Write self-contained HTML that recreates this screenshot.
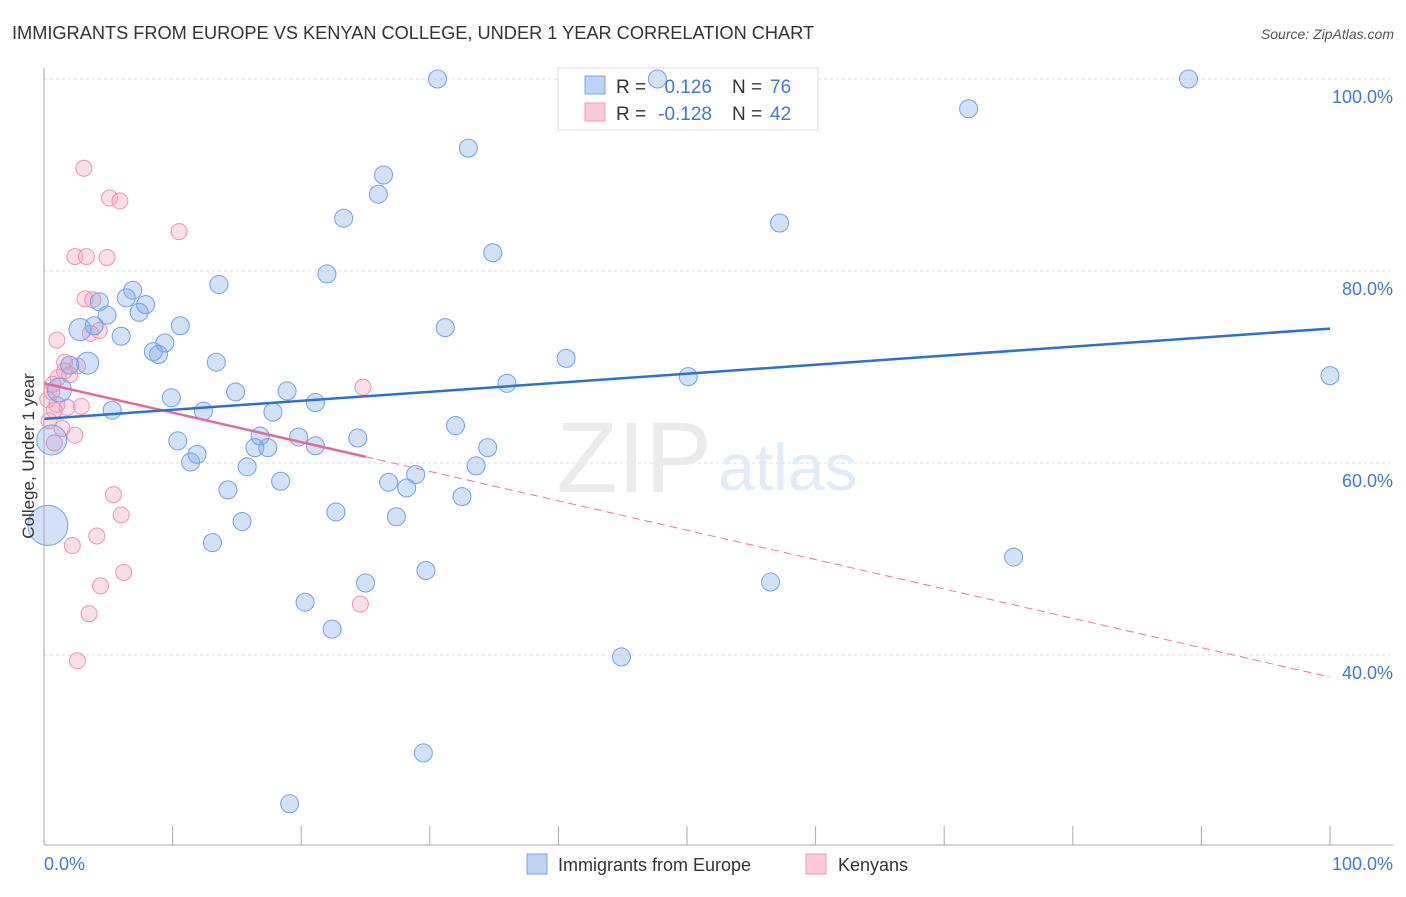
<!DOCTYPE html>
<html><head><meta charset="utf-8"><style>
body{margin:0;background:#fff;font-family:"Liberation Sans",sans-serif;}
svg text{font-family:"Liberation Sans",sans-serif;}
</style></head><body>
<svg width="1406" height="892" xmlns="http://www.w3.org/2000/svg">
<text x="12" y="39" font-size="18.2" fill="#333">IMMIGRANTS FROM EUROPE VS KENYAN COLLEGE, UNDER 1 YEAR CORRELATION CHART</text>
<text x="1394" y="39" font-size="14" fill="#555" font-style="italic" text-anchor="end">Source: ZipAtlas.com</text>
<g id="grid"></g>
<text x="712" y="492" font-size="100" fill="#ebebeb" text-anchor="end" font-family="Liberation Serif">ZIP</text>
<text x="718" y="490" font-size="66" fill="#e3ebf6">atlas</text>
<g>
<rect x="558" y="68" width="260" height="62" fill="#fff" stroke="#ddd"/>
<rect x="585" y="76" width="20" height="18" fill="#bcd3f5" stroke="#7ea6e6"/>
<rect x="585" y="103" width="20" height="18" fill="#fbc9d8" stroke="#eb9ab5"/>
<text x="616" y="93" font-size="19" fill="#333">R =</text>
<text x="712" y="93" font-size="19" fill="#3f78d6" text-anchor="end">0.126</text>
<text x="732" y="93" font-size="19" fill="#333">N =</text>
<text x="770" y="93" font-size="19" fill="#3f78d6">76</text>
<text x="616" y="120" font-size="19" fill="#333">R =</text>
<text x="712" y="120" font-size="19" fill="#3f78d6" text-anchor="end">-0.128</text>
<text x="732" y="120" font-size="19" fill="#333">N =</text>
<text x="770" y="120" font-size="19" fill="#3f78d6">42</text>
</g>
<g id="pts"></g>
<g id="trend"></g>
<line x1="44" y1="68" x2="44" y2="845" stroke="#aaa"/>
<line x1="44" y1="845" x2="1393" y2="845" stroke="#aaa"/>
<text transform="translate(34,456) rotate(-90)" font-size="17" fill="#333" text-anchor="middle">College, Under 1 year</text>
<text x="44" y="870" font-size="18" fill="#3f78d6">0.0%</text>
<text x="1393" y="870" font-size="18" fill="#3f78d6" text-anchor="end">100.0%</text>
<g>
<rect x="527" y="854" width="20" height="20" fill="#bcd3f5" stroke="#7ea6e6"/>
<text x="558" y="871" font-size="18" fill="#333">Immigrants from Europe</text>
<rect x="806" y="854" width="20" height="20" fill="#fbc9d8" stroke="#eb9ab5"/>
<text x="838" y="871" font-size="18" fill="#333">Kenyans</text>
</g>
</svg>
<script>
const yTicks=[40,60,80,100];
const yTickLabels=["40.0%","60.0%","80.0%","100.0%"];
const xTicks=[0,10,20,30,40,50,60,70,80,90,100];
const blueX=[30.6,47.7,89.0,71.9,33.0,26.4,26.0,23.3,57.2,34.9,22.0,13.6,6.9,6.4,4.3,7.9,7.4,4.9,3.9,2.8,10.6,31.2,6.0,9.4,8.5,8.9,40.6,13.4,3.4,2.0,50.1,100,36.0,14.9,18.9,1.2,9.9,21.1,5.3,12.4,17.8,32.0,16.8,19.8,24.4,10.4,0.6,21.1,16.4,17.4,34.5,11.9,11.4,15.8,33.6,28.9,26.8,18.4,28.2,14.3,32.5,22.7,27.4,15.4,0.3,13.1,75.4,29.7,25.0,56.5,20.3,22.4,44.9,29.5,19.1];
const blueY=[100,100,100,96.9,92.8,90.0,88.0,85.5,85.0,81.9,79.7,78.6,78.0,77.2,76.8,76.5,75.7,75.4,74.3,73.9,74.3,74.1,73.2,72.5,71.6,71.3,70.9,70.5,70.4,70.2,69.0,69.1,68.3,67.4,67.5,67.6,66.8,66.3,65.5,65.4,65.3,63.9,62.8,62.7,62.6,62.3,62.4,61.8,61.6,61.6,61.6,60.9,60.1,59.6,59.7,58.8,58.0,58.1,57.4,57.2,56.5,54.9,54.4,53.9,53.5,51.7,50.2,48.8,47.5,47.6,45.5,42.7,39.8,29.8,24.5];
const blueR=[9,9,9,9,9,9,9,9,9,9,9,9,9,9,9,9,9,9,9,11,9,9,9,9,9,9,9,9,11,9,9,9,9,9,9,12,9,9,9,9,9,9,9,9,9,9,15,9,9,9,9,9,9,9,9,9,9,9,9,9,9,9,9,9,20,9,9,9,9,9,9,9,9,9,9];
const pinkX=[3.1,5.1,5.9,10.5,2.4,3.3,4.9,3.2,3.8,3.6,4.3,1.0,1.6,2.6,2.0,1.1,0.7,24.8,0.6,0.3,1.0,1.8,2.9,0.8,1.4,2.4,0.8,5.4,6.0,4.1,2.2,6.2,4.4,24.6,3.5,2.6,1.6,0.4];
const pinkY=[90.7,87.6,87.3,84.1,81.5,81.5,81.4,77.1,77.0,73.5,73.8,72.8,70.5,70.1,69.2,68.9,68.2,67.9,67.4,66.6,66.1,65.8,65.9,65.5,63.6,62.9,62.1,56.7,54.6,52.4,51.4,48.6,47.2,45.3,44.3,39.4,69.6,64.4];
const blueTrend=[64.6,74.0];
const pinkTrend=[68.3,37.7];
const pinkSolidEnd=25;
const NS="http://www.w3.org/2000/svg";
const sx=v=>44+v*12.86;
const sy=v=>79+(100-v)*9.6;
const grid=document.getElementById('grid');
yTicks.forEach((t,i)=>{
 const l=document.createElementNS(NS,'line');
 
 
 l.setAttribute('x1',44);l.setAttribute('x2',1393);l.setAttribute('y1',sy(t));l.setAttribute('y2',sy(t));
 l.setAttribute('stroke','#ddd');l.setAttribute('stroke-dasharray','3,3');grid.appendChild(l);
 const tx=document.createElementNS(NS,'text');
 
 
 tx.setAttribute('x',1393);tx.setAttribute('y',sy(t)+24);tx.setAttribute('text-anchor','end');
 tx.setAttribute('font-size','18');tx.setAttribute('fill','#3f78d6');tx.textContent=yTickLabels[i];grid.appendChild(tx);
});
xTicks.forEach(t=>{
 const l=document.createElementNS(NS,'line');
 
 
 l.setAttribute('x1',sx(t));l.setAttribute('x2',sx(t));l.setAttribute('y1',826);l.setAttribute('y2',845);
 l.setAttribute('stroke','#aaa');grid.appendChild(l);
});
const pts=document.getElementById('pts');
pinkX.forEach((x,i)=>{
 const c=document.createElementNS(NS,'circle');
 
 
 c.setAttribute('cx',sx(x));c.setAttribute('cy',sy(pinkY[i]));c.setAttribute('r',8);
 c.setAttribute('fill','rgba(245,160,190,0.35)');c.setAttribute('stroke','#ea95b3');pts.appendChild(c);
});
blueX.forEach((x,i)=>{
 const c=document.createElementNS(NS,'circle');
 
 
 c.setAttribute('cx',sx(x));c.setAttribute('cy',sy(blueY[i]));c.setAttribute('r',blueR[i]);
 c.setAttribute('fill','rgba(130,170,235,0.35)');c.setAttribute('stroke','#76a0e2');pts.appendChild(c);
});
const tr=document.getElementById('trend');
function ln(x1,y1,x2,y2,col,w,dash,name){
 const l=document.createElementNS(NS,'line');
 
 
 l.setAttribute('x1',sx(x1));l.setAttribute('y1',sy(y1));l.setAttribute('x2',sx(x2));l.setAttribute('y2',sy(y2));
 l.setAttribute('stroke',col);l.setAttribute('stroke-width',w);if(dash)l.setAttribute('stroke-dasharray',dash);tr.appendChild(l);
}
const pAt=x=>pinkTrend[0]+(pinkTrend[1]-pinkTrend[0])*x/100;
ln(pinkSolidEnd,pAt(pinkSolidEnd),100,pinkTrend[1],'#e8779c',1,'8,5','kenyans-trend-dashed');
ln(0,pinkTrend[0],pinkSolidEnd,pAt(pinkSolidEnd),'#e8679a',2.5,null,'kenyans-trend');
ln(0,blueTrend[0],100,blueTrend[1],'#2c6fd6',2.5,null,'europe-trend');
</script>
</body></html>
